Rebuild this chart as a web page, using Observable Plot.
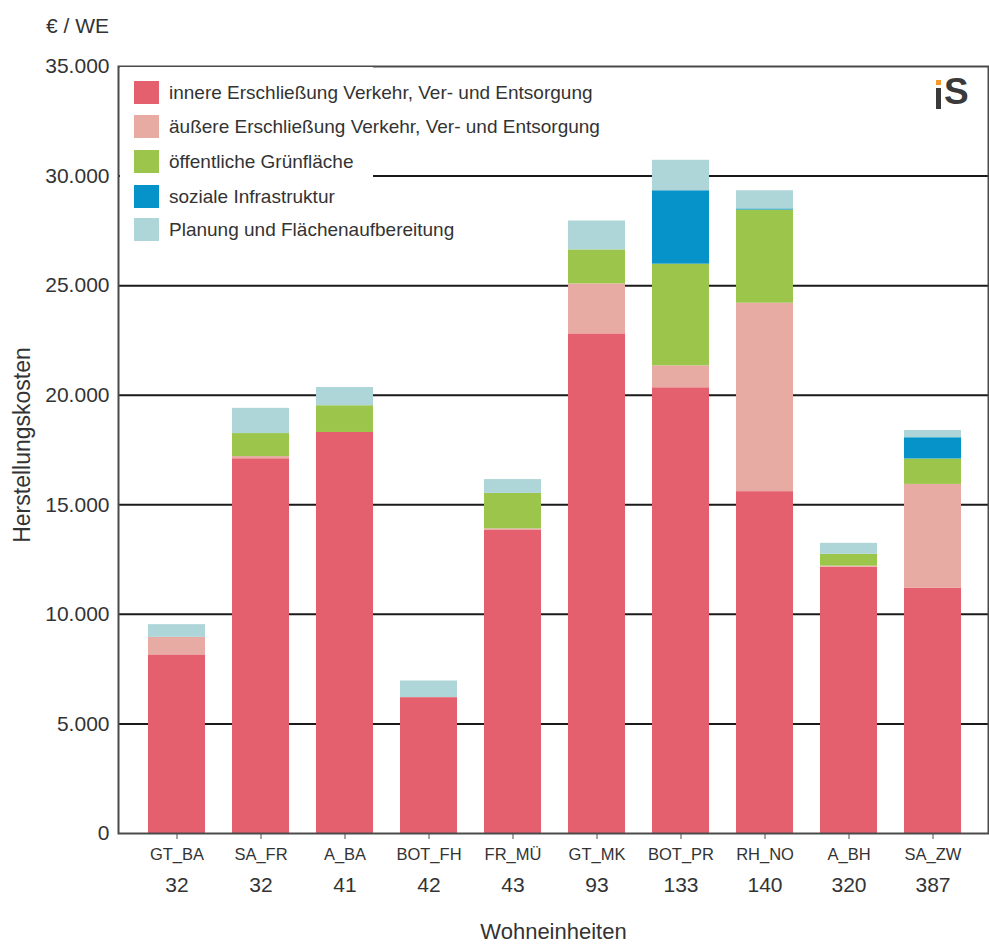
<!DOCTYPE html>
<html>
<head>
<meta charset="utf-8">
<script src="https://cdn.jsdelivr.net/npm/d3@7"></script>
<script src="https://cdn.jsdelivr.net/npm/@observablehq/plot@0.6"></script>
<style>
  body { margin: 0; background: #fff; font-family: "Liberation Sans", Arial, sans-serif; }
  #wrap { position: relative; width: 989px; height: 945px; }
  #legend { position: absolute; left: 120px; top: 67px; width: 253px; height: 178px; background: #fff; }
  .li { position: absolute; left: 14px; display: flex; align-items: center; white-space: nowrap; font-size: 19px; color: #333; }
  .sw { width: 25px; height: 23px; margin-right: 10px; }
  #logo { position: absolute; left: 934px; top: 78px; width: 44px; height: 36px; }
</style>
</head>
<body>
<div id="wrap"></div>
<script>
// ---- data ----
const categories = ["GT_BA", "SA_FR", "A_BA", "BOT_FH", "FR_MÜ", "GT_MK", "BOT_PR", "RH_NO", "A_BH", "SA_ZW"];
const units = [32, 32, 41, 42, 43, 93, 133, 140, 320, 387];
const seriesNames = [
  "innere Erschließung Verkehr, Ver- und Entsorgung",
  "äußere Erschließung Verkehr, Ver- und Entsorgung",
  "öffentliche Grünfläche",
  "soziale Infrastruktur",
  "Planung und Flächenaufbereitung"
];
const innere      = [8150, 17100, 18300, 6200, 13850, 22800, 20340, 15600, 12150, 11200];
const aeussere    = [800,   100,     0,    0,    50,  2280,  1000,  8600,    50,  4730];
const gruen       = [0,    1050,  1220,    0,  1620,  1550,  4640,  4250,   540,  1160];
const sozial      = [0,       0,     0,    0,     0,     0,  3350,    50,     0,   970];
const planung     = [580,  1150,   830,  760,   630,  1320,  1390,   830,   500,   330];
const seriesColors = ["#E5606F", "#E8ABA4", "#9BC54B", "#0693C9", "#AED5D8"];
const yTicks = [0, 5000, 10000, 15000, 20000, 25000, 30000, 35000];
const gridTicks = [5000, 10000, 15000, 20000, 25000, 30000];

const seriesValues = [innere, aeussere, gruen, sozial, planung];
const data = [];
seriesValues.forEach((vals, s) => {
  vals.forEach((v, i) => data.push({cat: categories[i], series: seriesNames[s], value: v}));
});
const unitOf = new Map(categories.map((c, i) => [c, units[i]]));
const de = d3.formatLocale({decimal: ",", thousands: ".", grouping: [3], currency: ["", " €"]});
const fmt = de.format(",");

const chart = Plot.plot({
  width: 989,
  height: 945,
  marginLeft: 118,
  marginRight: 1,
  marginTop: 66,
  marginBottom: 112,
  style: {fontFamily: "'Liberation Sans', Arial, sans-serif", color: "#333", background: "#fff"},
  x: {domain: categories, paddingInner: 0.32, paddingOuter: 0, insetLeft: 26, insetRight: 23},
  y: {domain: [0, 35000], nice: false},
  color: {domain: seriesNames, range: seriesColors},
  marks: [
    Plot.gridY(gridTicks, {stroke: "#1a1a1a", strokeOpacity: 1, strokeWidth: 2}),
    Plot.barY(data, {x: "cat", y: "value", fill: "series", inset: 0}),
    Plot.frame({stroke: "#4a4a4a", strokeWidth: 2}),
    Plot.axisY({ticks: yTicks, tickFormat: fmt, tickSize: 0, tickPadding: 9, fontSize: 21, label: null}),
    Plot.text(["Herstellungskosten"], {frameAnchor: "left", textAnchor: "middle", dx: -96, dy: -5, rotate: -90, fontSize: 23, fill: "#333"}),
    Plot.axisX({tickSize: 6, tickPadding: 9, fontSize: 16.5, stroke: "#4a4a4a", label: null}),
    Plot.axisX({tickSize: 0, tickPadding: 44, fontSize: 21, tickFormat: d => String(unitOf.get(d)), label: null}),
    Plot.text(["Wohneinheiten"], {frameAnchor: "bottom", dy: 105, fontSize: 22, fill: "#333"}),
    Plot.text(["€ / WE"], {frameAnchor: "top-left", dx: -41, dy: -48, fontSize: 21, fill: "#333", textAnchor: "middle"})
  ]
});

const wrap = document.getElementById("wrap");
wrap.appendChild(chart);

// legend (overlay)
const legend = document.createElement("div");
legend.id = "legend";
const rowTops = [14, 48, 83, 118, 151];
seriesNames.forEach((name, i) => {
  const row = document.createElement("div");
  row.className = "li";
  row.style.top = rowTops[i] + "px";
  const sw = document.createElement("div");
  sw.className = "sw";
  sw.style.background = seriesColors[i];
  const t = document.createElement("span");
  t.textContent = name;
  row.appendChild(sw); row.appendChild(t);
  legend.appendChild(row);
});
wrap.appendChild(legend);

// logo
const logo = document.createElement("div");
logo.id = "logo";
logo.innerHTML = '<div style="position:absolute;left:2px;top:2px;width:5px;height:5px;background:#F39A2E"></div>' +
  '<div style="position:absolute;left:2px;top:10px;width:5px;height:21px;background:#3a3a3a"></div>' +
  '<div style="position:absolute;left:10px;top:-5px;font:bold 37px \'Liberation Sans\',Arial,sans-serif;color:#3a3a3a;line-height:1">S</div>';
wrap.appendChild(logo);
</script>
</body>
</html>
